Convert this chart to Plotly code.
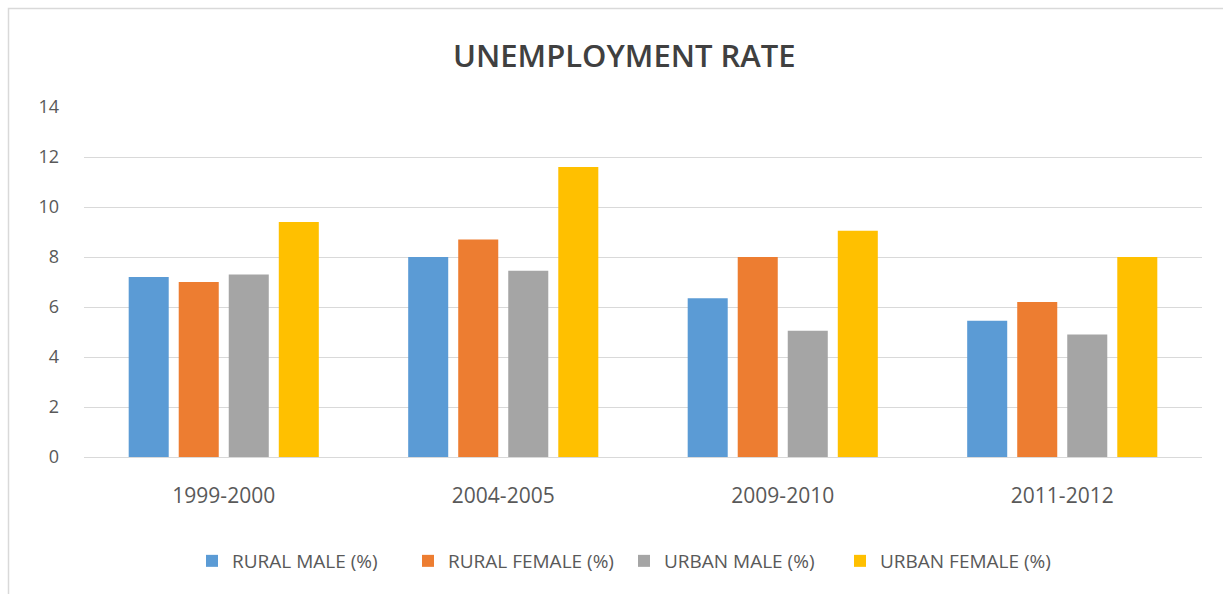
import plotly.graph_objects as go

# Unemployment rate by survey round (%)
periods = ["1999-2000", "2004-2005", "2009-2010", "2011-2012"]
rural_male = [7.2, 8.0, 6.35, 5.45]
rural_female = [7.0, 8.7, 8.0, 6.2]
urban_male = [7.3, 7.45, 5.05, 4.9]
urban_female = [9.4, 11.6, 9.05, 8.0]

series_names = ["RURAL MALE (%)", "RURAL FEMALE (%)", "URBAN MALE (%)", "URBAN FEMALE (%)"]
series_values = [rural_male, rural_female, urban_male, urban_female]
series_colors = ["#5b9bd5", "#ed7d31", "#a5a5a5", "#ffc000"]

y_ticks = [0, 2, 4, 6, 8, 10, 12, 14]

W, H = 1223, 594
M_L, M_R, M_T, M_B = 84, 21, 107, 137
plot_w = W - M_L - M_R
plot_h = H - M_T - M_B

fig = go.Figure()
for name, vals, col in zip(series_names, series_values, series_colors):
    fig.add_trace(go.Bar(
        x=periods, y=vals, name=name,
        marker=dict(color=col, line=dict(width=0)),
        hoverinfo="x+y+name",
    ))

label_font = dict(family="Open Sans, Arial, sans-serif", size=18, color="#595959")

fig.update_layout(
    width=W, height=H,
    margin=dict(l=M_L, r=M_R, t=M_T, b=M_B),
    paper_bgcolor="white",
    plot_bgcolor="white",
    barmode="group",
    bargap=0.284,
    bargroupgap=0.2,
    showlegend=True,
    legend=dict(
        orientation="h",
        x=0.483, xanchor="center",
        xref="paper",
        y=-(561 - (H - M_B)) / plot_h, yanchor="middle",
        entrywidth=171,
        font=dict(family="Open Sans, Arial, sans-serif", size=19, color="#595959"),
        itemclick=False, itemdoubleclick=False,
    ),
    xaxis=dict(
        showgrid=False,
        showline=False,
        zeroline=False,
        ticks="",
        tickfont=dict(family="Open Sans, Arial, sans-serif", size=21, color="#595959"),
        ticklabelstandoff=24,
        fixedrange=True,
    ),
    yaxis=dict(
        range=[0, 14],
        tickvals=y_ticks,
        showgrid=True,
        gridcolor="#d9d9d9",
        gridwidth=1,
        zeroline=True,
        zerolinecolor="#d9d9d9",
        zerolinewidth=1,
        showline=False,
        ticks="",
        tickfont=label_font,
        ticklabelstandoff=24,
        fixedrange=True,
    ),
    annotations=[dict(
        text="UNEMPLOYMENT RATE",
        xref="paper", yref="paper",
        x=(624 - M_L) / plot_w, y=(H - M_B - 55) / plot_h,
        xanchor="center", yanchor="middle",
        showarrow=False,
        font=dict(family="Open Sans, Arial, sans-serif", size=31, color="#404040", weight=600),
    )],
    shapes=[dict(
        type="rect",
        xref="paper", yref="paper",
        x0=(8.5 - M_L) / plot_w, x1=(1260 - M_L) / plot_w,
        y0=(H - M_B - 640) / plot_h, y1=(H - M_B - 8.5) / plot_h,
        line=dict(color="#d9d9d9", width=1.5),
        fillcolor="rgba(0,0,0,0)",
        layer="below",
    )],
)

fig.write_html("out.html", config={"displayModeBar": False})
